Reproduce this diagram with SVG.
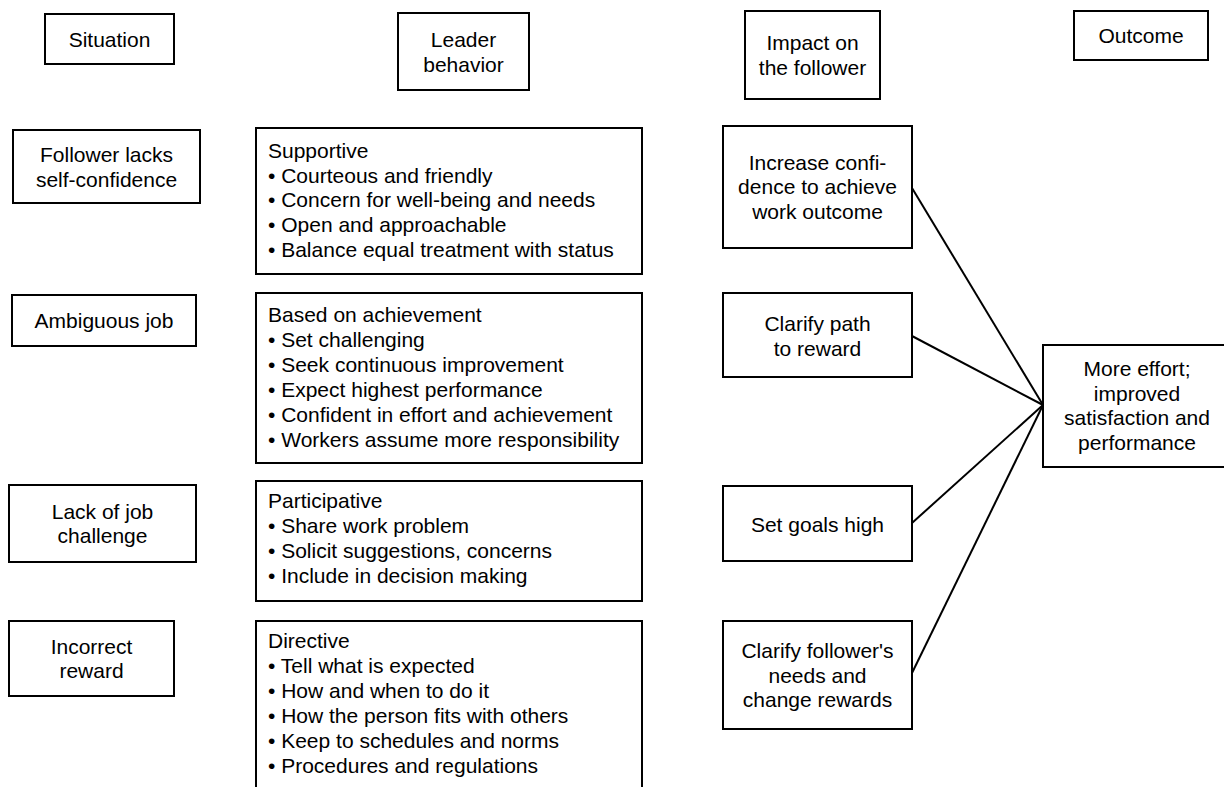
<svg xmlns="http://www.w3.org/2000/svg" width="1224" height="787" viewBox="0 0 1224 787">
<style>
.b{fill:#fff;stroke:#000;stroke-width:2}
text{font-family:"Liberation Sans",Arial,sans-serif;font-size:21px;fill:#000}
.c{text-anchor:middle}
.l{stroke:#000;stroke-width:2;fill:none}
</style>
<rect width="1224" height="787" fill="#fff"/>
<g id="connectors">
<line class="l" x1="912" y1="188" x2="1043" y2="405"/>
<line class="l" x1="912" y1="336" x2="1043" y2="405"/>
<line class="l" x1="912" y1="523" x2="1043" y2="405"/>
<line class="l" x1="912" y1="673" x2="1043" y2="405"/>
</g>
<g id="h-situation"><rect class="b" x="45" y="14" width="129" height="50"/><text class="c" x="109.5" y="46.5">Situation</text></g>
<g id="h-leader"><rect class="b" x="398" y="13" width="131" height="77"/><text class="c" x="463.5" y="47">Leader</text><text class="c" x="463.5" y="71.5">behavior</text></g>
<g id="h-impact"><rect class="b" x="745" y="11" width="135" height="88"/><text class="c" x="812.5" y="50.25">Impact on</text><text class="c" x="812.5" y="74.75">the follower</text></g>
<g id="h-outcome"><rect class="b" x="1074" y="11" width="134" height="49"/><text class="c" x="1141" y="43">Outcome</text></g>

<g id="s-follower"><rect class="b" x="13" y="130" width="187" height="73"/><text class="c" x="106.5" y="162">Follower lacks</text><text class="c" x="106.5" y="186.5">self-confidence</text></g>
<g id="s-ambiguous"><rect class="b" x="12" y="295" width="184" height="51"/><text class="c" x="104" y="328">Ambiguous job</text></g>
<g id="s-lack"><rect class="b" x="9" y="485" width="187" height="77"/><text class="c" x="102.5" y="519">Lack of job</text><text class="c" x="102.5" y="543">challenge</text></g>
<g id="s-incorrect"><rect class="b" x="9" y="621" width="165" height="75"/><text class="c" x="91.5" y="653.5">Incorrect</text><text class="c" x="91.5" y="678">reward</text></g>

<g id="b-supportive"><rect class="b" x="256" y="128" width="386" height="146"/>
<text x="268" y="157.7">Supportive</text>
<text x="268" y="182.5">• Courteous and friendly</text>
<text x="268" y="207.2">• Concern for well-being and needs</text>
<text x="268" y="232">• Open and approachable</text>
<text x="268" y="256.7">• Balance equal treatment with status</text></g>
<g id="b-achievement"><rect class="b" x="256" y="293" width="386" height="170"/>
<text x="268" y="321.7">Based on achievement</text>
<text x="268" y="346.7">• Set challenging</text>
<text x="268" y="371.7">• Seek continuous improvement</text>
<text x="268" y="396.7">• Expect highest performance</text>
<text x="268" y="421.7">• Confident in effort and achievement</text>
<text x="268" y="446.7">• Workers assume more responsibility</text></g>
<g id="b-participative"><rect class="b" x="256" y="481" width="386" height="120"/>
<text x="268" y="508.3">Participative</text>
<text x="268" y="533.3">• Share work problem</text>
<text x="268" y="558.3">• Solicit suggestions, concerns</text>
<text x="268" y="583.3">• Include in decision making</text></g>
<g id="b-directive"><rect class="b" x="256" y="621" width="386" height="190"/>
<text x="268" y="648.3">Directive</text>
<text x="268" y="673.3">• Tell what is expected</text>
<text x="268" y="698.3">• How and when to do it</text>
<text x="268" y="723.3">• How the person fits with others</text>
<text x="268" y="748.3">• Keep to schedules and norms</text>
<text x="268" y="772.8">• Procedures and regulations</text></g>

<g id="i-confidence"><rect class="b" x="723" y="126" width="189" height="122"/><text class="c" x="817.5" y="169.5">Increase confi-</text><text class="c" x="817.5" y="194">dence to achieve</text><text class="c" x="817.5" y="218.5">work outcome</text></g>
<g id="i-path"><rect class="b" x="723" y="293" width="189" height="84"/><text class="c" x="817.5" y="331">Clarify path</text><text class="c" x="817.5" y="355.5">to reward</text></g>
<g id="i-goals"><rect class="b" x="723" y="486" width="189" height="75"/><text class="c" x="817.5" y="531.5">Set goals high</text></g>
<g id="i-needs"><rect class="b" x="723" y="621" width="189" height="108"/><text class="c" x="817.5" y="658.3">Clarify follower's</text><text class="c" x="817.5" y="682.7">needs and</text><text class="c" x="817.5" y="707">change rewards</text></g>

<g id="o-effort"><rect class="b" x="1043" y="345" width="188" height="122"/><text class="c" x="1137" y="376">More effort;</text><text class="c" x="1137" y="400.7">improved</text><text class="c" x="1137" y="425.2">satisfaction and</text><text class="c" x="1137" y="449.5">performance</text></g>
</svg>
